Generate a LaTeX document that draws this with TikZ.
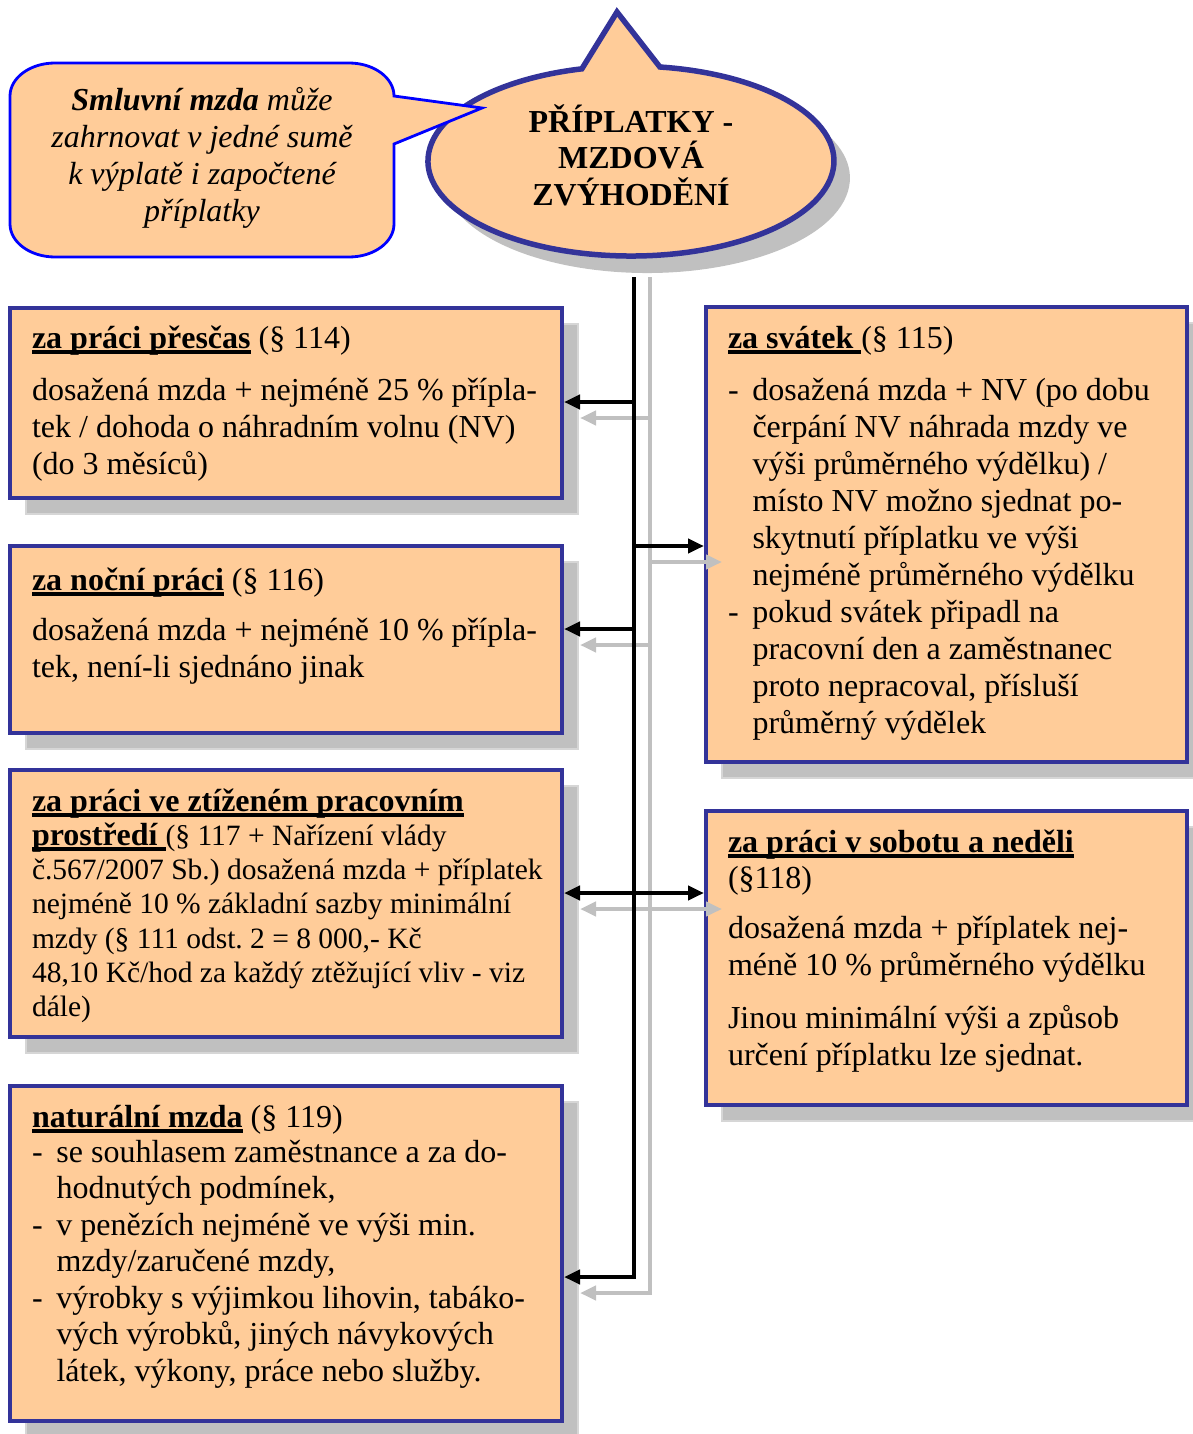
\documentclass[tikz,border=0pt]{standalone}
\usepackage{fontspec}
\setmainfont{Liberation Serif}
\usetikzlibrary{arrows.meta,shadows}

\definecolor{peach}{HTML}{FFCC99}
\definecolor{navy}{HTML}{333399}
\definecolor{sgray}{HTML}{C0C0C0}
\definecolor{sedge}{HTML}{D6D6D6}
\definecolor{cblue}{HTML}{0000FF}

% bold heading with a heavy underline
\newcommand\hdl[1]{\setbox0=\hbox{\bfseries #1}\rlap{\rule[-6pt]{\wd0}{4pt}}\box0\relax}
% strut fixing the top of the first line
\newcommand\fl{\rule{0pt}{30pt}}
% dash item and its hanging indent
\newcommand\dsh{\makebox[24.5pt][l]{-}}
\newcommand\ind{\hspace*{24.5pt}}
% keep baselines evenly spaced
\newcommand\tightlines{\lineskiplimit=-100pt\relax\frenchspacing}

\begin{document}
\begin{tikzpicture}[x=1pt,y=-1pt,
  box/.style={draw=navy, fill=peach, line width=4pt, anchor=north west, inner sep=0pt,
    general shadow={fill=sgray, draw=sedge, line width=1.5pt, shadow xshift=16pt, shadow yshift=-16pt}},
  txt/.style={anchor=north west, inner sep=0pt, outer sep=0pt, align=left,
    font=\fontsize{32}{37}\selectfont\tightlines},
  smalltxt/.style={txt, font=\fontsize{29.5}{34.3}\selectfont\tightlines},
  blk/.style={line width=4pt, draw=black},
  gry/.style={line width=4pt, draw=sgray},
  tip/.style={-{Triangle[length=16pt,width=14pt]}},
  tips/.style={{Triangle[length=16pt,width=14pt]}-{Triangle[length=16pt,width=14pt]}}
]
\useasboundingbox (0,0) rectangle (1193,1434);

% title bubble: ellipse with a spike on top, and its shadow
\fill[sgray, shift={(16,17)}] (659.9,67) arc[start angle=-81.8,end angle=256,x radius=203,y radius=95] -- (617,12) -- cycle;
\filldraw[fill=peach, draw=navy, line width=5.5pt, line join=miter]
  (659.9,67) arc[start angle=-81.8,end angle=256,x radius=203,y radius=95] -- (617,12) -- cycle;
\node[inner sep=0pt, anchor=north, align=center,
      font=\fontsize{32}{36.5}\selectfont\bfseries\tightlines] (title) at (631,102)
  {\fl PŘÍPLATKY -\\MZDOVÁ\\ZVÝHODĚNÍ};

% speech callout
\filldraw[fill=peach, draw=cblue, line width=2.8pt, line join=miter]
  (55,63) -- (349,63) arc[start angle=-90,end angle=0,x radius=45,y radius=33]
  -- (482,108) -- (394,144) -- (394,224) arc[start angle=0,end angle=90,x radius=45,y radius=33]
  -- (55,257) arc[start angle=90,end angle=180,x radius=45,y radius=33]
  -- (10,96) arc[start angle=180,end angle=270,x radius=45,y radius=33] -- cycle;
\node[inner sep=0pt, anchor=north, align=center,
      font=\fontsize{32}{37}\selectfont\itshape\tightlines] (note) at (202,80)
  {\fl\textbf{Smluvní mzda} může\\zahrnovat v jedné sumě\\k výplatě i započtené\\příplatky};

% boxes
\node[box, minimum width=552pt, minimum height=190pt] (b1) at (8,306) {};
\node[box, minimum width=552pt, minimum height=187pt] (b2) at (8,544) {};
\node[box, minimum width=552pt, minimum height=267pt] (b3) at (8,768) {};
\node[box, minimum width=552pt, minimum height=335pt] (b4) at (8,1084) {};
\node[box, minimum width=481pt, minimum height=455pt] (r1) at (704,305) {};
\node[box, minimum width=481pt, minimum height=294pt] (r2) at (704,809) {};

% box texts
\node[txt] (t1) at (32,318) {\fl\hdl{za práci přesčas} (§ 114)\\[15pt]
  dosažená mzda + nejméně 25 \% přípla-\\
  tek / dohoda o náhradním volnu (NV)\\
  (do 3 měsíců)};

\node[txt] (t2) at (32,560) {\fl\hdl{za noční práci} (§ 116)\\[13pt]
  dosažená mzda + nejméně 10 \% přípla-\\
  tek, není-li sjednáno jinak};

\node[smalltxt] (t3) at (32,781) {\fl{\fontsize{32}{34.3}\selectfont\hdl{za práci ve ztíženém pracovním}}\\
  {\fontsize{32}{34.3}\selectfont\hdl{prostředí }}(§ 117 + Nařízení vlády\\
  č.567/2007 Sb.) dosažená mzda + příplatek\\
  nejméně 10 \% základní sazby minimální\\
  mzdy (§ 111 odst. 2 = 8 000,- Kč\\
  48,10 Kč/hod za každý ztěžující vliv - viz\\
  dále)};

\node[txt, font=\fontsize{32}{36.5}\selectfont\tightlines] (t4) at (32,1097)
  {\fl\hdl{naturální mzda} (§ 119)\\[-1.5pt]
  \dsh se souhlasem zaměstnance a za do-\\
  \ind hodnutých podmínek,\\
  \dsh v penězích nejméně ve výši min.\\
  \ind mzdy/zaručené mzdy,\\
  \dsh výrobky s výjimkou lihovin, tabáko-\\
  \ind vých výrobků, jiných návykových\\
  \ind látek, výkony, práce nebo služby.};

\node[txt] (u1) at (728,318) {\fl\hdl{za svátek }(§ 115)\\[15pt]
  \dsh dosažená mzda + NV (po dobu\\
  \ind čerpání NV náhrada mzdy ve\\
  \ind výši průměrného výdělku) /\\
  \ind místo NV možno sjednat po-\\
  \ind skytnutí příplatku ve výši\\
  \ind nejméně průměrného výdělku\\
  \dsh pokud svátek připadl na\\
  \ind pracovní den a zaměstnanec\\
  \ind proto nepracoval, přísluší\\
  \ind průměrný výdělek};

\node[txt] (u2) at (728,822) {\fl\hdl{za práci v sobotu a neděli}\\[-1pt]
  (§118)\\[13pt]
  dosažená mzda + příplatek nej-\\
  méně 10 \% průměrného výdělku\\[16pt]
  Jinou minimální výši a způsob\\
  určení příplatku lze sjednat.};

% connector junctions
\coordinate (hub) at (634,277);
\coordinate (k1) at (634,402);
\coordinate (k2) at (634,546);
\coordinate (k3) at (634,629);
\coordinate (k5) at (634,893);
\coordinate (k4) at (634,1277);
\coordinate (ghub) at (650,277);
\coordinate (g1) at (650,418);
\coordinate (g2) at (650,562);
\coordinate (g3) at (650,645);
\coordinate (g4) at (650,1293);
\coordinate (s1) at (580,418);
\coordinate (s2) at (722,562);
\coordinate (s3) at (580,645);
\coordinate (s5l) at (580,909);
\coordinate (s5r) at (722,909);
\coordinate (s4) at (580,1293);

% grey shadow connectors
\draw[gry, tip] (ghub) -- (g4) -- (s4);
\draw[gry, tip] (g1) -- (s1);
\draw[gry, tip] (g2) -- (s2);
\draw[gry, tip] (g3) -- (s3);
\draw[gry, tips] (s5l) -- (s5r);

% black connectors
\draw[blk, tip] (hub) -- (k4) -- (k4 -| b4.east);
\draw[blk, tip] (k1) -- (k1 -| b1.east);
\draw[blk, tip] (k2) -- (k2 -| r1.west);
\draw[blk, tip] (k3) -- (k3 -| b2.east);
\draw[blk, tips] (k5 -| b3.east) -- (k5 -| r2.west);
\end{tikzpicture}
\end{document}
